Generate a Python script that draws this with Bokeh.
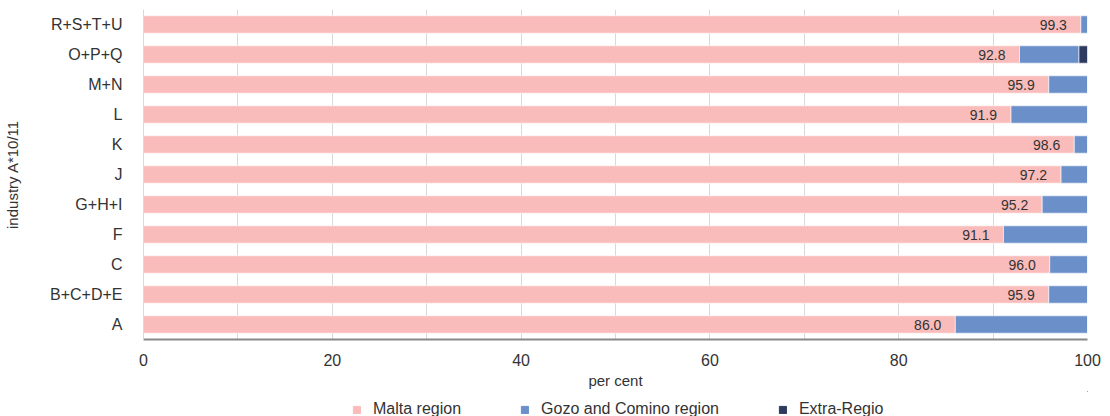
from bokeh.plotting import figure
from bokeh.layouts import column
from bokeh.models import ColumnDataSource, Legend, LegendItem, FactorRange, Range1d, SingleIntervalTicker
from bokeh.embed import file_html
from bokeh.resources import INLINE
from bokeh.core.properties import value

industries = ["R+S+T+U", "O+P+Q", "M+N", "L", "K", "J", "G+H+I", "F", "C", "B+C+D+E", "A"]
malta = [99.3, 92.8, 95.9, 91.9, 98.6, 97.2, 95.2, 91.1, 96.0, 95.9, 86.0]
gozo = [0.7, 6.3, 4.1, 8.1, 1.4, 2.8, 4.8, 8.9, 4.0, 4.1, 14.0]
extra = [0.0, 0.9, 0.0, 0.0, 0.0, 0.0, 0.0, 0.0, 0.0, 0.0, 0.0]
series_names = ["Malta region", "Gozo and Comino region", "Extra-Regio"]
colors = ["#F9BCBA", "#6A8FC9", "#2E3B5E"]

FONT = "Liberation Sans"

src = ColumnDataSource(dict(
    ind=industries, malta=malta, gozo=gozo, extra=extra,
    lbl=["%.1f" % v for v in malta],
))

p = figure(frame_width=944, frame_height=330, output_backend="svg", toolbar_location=None,
           y_range=FactorRange(factors=industries[::-1], range_padding=0),
           x_range=Range1d(0, 100),
           min_border_left=143, min_border_right=16, min_border_top=9, min_border_bottom=0)
p.outline_line_color = None

p.hbar_stack(["malta", "gozo", "extra"], y="ind", height=0.58, color=colors,
             line_color="white", line_width=0.6, source=src)

p.text(x="malta", y="ind", text="lbl", source=src, text_align="right", text_baseline="middle",
       x_offset=-14, text_font=value(FONT), text_font_size="14px", text_color="#333333")

p.xaxis.ticker = SingleIntervalTicker(interval=20)
p.xaxis.axis_label = "per cent"
p.yaxis.axis_label = "industry A*10/11"
for ax in (p.xaxis[0], p.yaxis[0]):
    ax.major_label_text_font = FONT
    ax.major_label_text_font_size = "16px"
    ax.major_label_text_color = "#333333"
    ax.axis_label_text_font = FONT
    ax.axis_label_text_font_size = "15px"
    ax.axis_label_text_font_style = "normal"
    ax.axis_label_text_color = "#333333"
    ax.major_tick_line_color = None
    ax.minor_tick_line_color = None
p.xaxis.axis_line_color = "#888888"
p.xaxis.axis_line_width = 2
p.xaxis.major_label_standoff = 8
p.xaxis.axis_label_standoff = 3
p.yaxis.axis_line_color = "#D9D9D9"
p.yaxis.major_label_standoff = 15
p.yaxis.axis_label_standoff = 26

p.ygrid.grid_line_color = None
p.xgrid.grid_line_color = "#D9D9D9"
p.xgrid.ticker = SingleIntervalTicker(interval=10)

# legend strip (its frame is aligned with the chart frame by the column layout)
lg = figure(width=1103, height=27, output_backend="svg", toolbar_location=None,
            x_axis_type=None, y_axis_type=None, x_range=Range1d(0, 1), y_range=Range1d(0, 1),
            min_border=0)
lg.outline_line_color = None
lg.xgrid.grid_line_color = None
lg.ygrid.grid_line_color = None
dummies = [lg.hbar(y=[5], left=[5], right=[6], height=0.5, color=c) for c in colors]
legend = Legend(items=[LegendItem(label=n, renderers=[r]) for n, r in zip(series_names, dummies)],
                orientation="horizontal", location=(209, 0),
                glyph_width=9, glyph_height=9, label_standoff=12, spacing=59, label_height=16,
                label_text_font=FONT, label_text_font_size="16px", label_text_color="#333333",
                border_line_color=None, background_fill_alpha=0, padding=0, margin=0)
lg.add_layout(legend, "center")

layout = column(p, lg, spacing=0)
open("out.html", "w").write(file_html(layout, INLINE))
